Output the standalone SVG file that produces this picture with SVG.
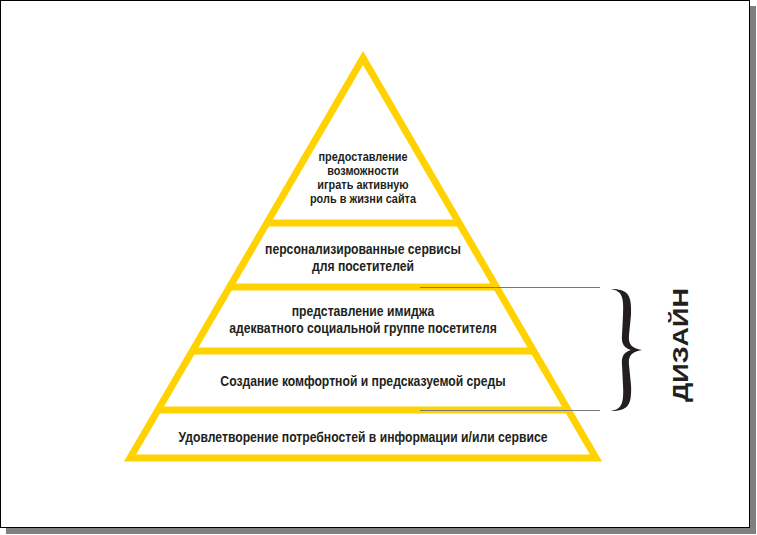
<svg xmlns="http://www.w3.org/2000/svg" width="757" height="535" viewBox="0 0 757 535">
<style>
.t{font-family:"Liberation Sans Narrow","Liberation Sans",Arial,sans-serif;font-weight:bold;fill:#231f20;text-anchor:middle;font-size:14.5px}
.s{font-size:13px}
.y{stroke:#ffd200;stroke-width:7;fill:none}
.g{stroke:#777;stroke-width:1}
</style>
<rect x="6" y="6" width="750" height="528" fill="#808080"/>
<rect x="0.5" y="0.5" width="749" height="527" fill="#fff" stroke="#000"/>
<g id="pyramid">
<polygon class="y" points="363,58 130,458 596,458" stroke-linejoin="miter"/>
<line class="y" x1="267" y1="223" x2="459" y2="223"/>
<line class="y" x1="229" y1="287" x2="497" y2="287"/>
<line class="y" x1="192" y1="351" x2="534" y2="351"/>
<line class="y" x1="158" y1="410" x2="568" y2="410"/>
</g>
<g id="connectors">
<line class="g" x1="420" y1="287.5" x2="600" y2="287.5"/>
<line class="g" x1="420" y1="410.5" x2="600" y2="410.5"/>
</g>
<g transform="translate(363,0) scale(0.84,1) translate(-363,0)">
<g id="level5"><text class="t s" x="363" y="161">предоставление</text><text class="t s" x="363" y="175">возможности</text><text class="t s" x="363" y="189">играть активную</text><text class="t s" x="363" y="203">роль в жизни сайта</text></g>
<g id="level4"><text class="t" x="363" y="254">персонализированные сервисы</text><text class="t" x="363" y="271">для посетителей</text></g>
<g id="level3"><text class="t" x="363" y="316">представление имиджа</text><text class="t" x="363" y="333">адекватного социальной группе посетителя</text></g>
<g id="level2"><text class="t" x="363" y="386">Создание комфортной и предсказуемой среды</text></g>
<g id="level1"><text class="t" x="363" y="442">Удовлетворение потребностей  в информации и/или сервисе</text></g>
</g>
<g id="brace">
<path d="M611,289 C628,289 632,295 631,315 L629,335 C628,345 632,348 642,350 C632,352 628,355 629,365 L631,385 C632,405 628,411 611,411 C622,409 624,403 623,385 L622,365 C621,355 625,352 631,350 C625,348 621,345 622,335 L623,315 C624,297 622,291 611,289 Z" fill="#231f20"/>
<text class="t" transform="translate(688,345) rotate(-90) scale(1,0.85)" style="font-size:27px">ДИЗАЙН</text>
</g>
</svg>
